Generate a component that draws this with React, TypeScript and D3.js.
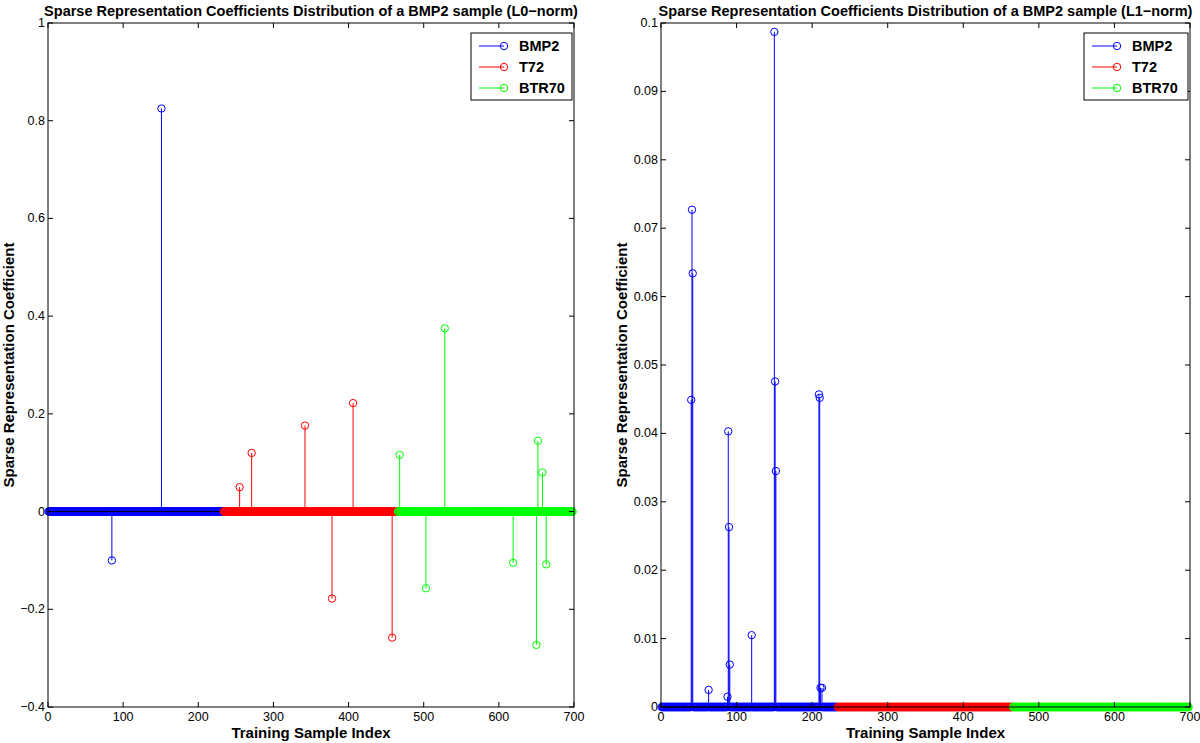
import React from "react";
import * as d3 from "d3";

// ---- data ----
const classNames = ["BMP2", "T72", "BTR70"];
const classColors = ["#0000ff", "#ff0000", "#00ff00"];
const classStart = [1, 234, 466];
const classEnd = [233, 465, 698];

// L0-norm nonzero coefficients: [index, value]
const l0BMP2: [number, number][] = [[85, -0.1], [151, 0.825]];
const l0T72: [number, number][] = [
  [255, 0.05], [271, 0.12], [342, 0.176], [378, -0.178], [406, 0.222], [458, -0.258],
];
const l0BTR70: [number, number][] = [
  [468, 0.116], [503, -0.157], [528, 0.375], [619, -0.105], [650, -0.273],
  [652, 0.145], [658, 0.08], [663, -0.108],
];

// L1-norm nonzero coefficients: [index, value]
const l1BMP2: [number, number][] = [
  [40, 0.0449], [41, 0.0727], [42, 0.0634], [63, 0.0025], [88, 0.0015],
  [89, 0.0403], [90, 0.0263], [91, 0.0062], [120, 0.0105], [150, 0.0987],
  [151, 0.0476], [152, 0.0345], [209, 0.0457], [210, 0.0452], [211, 0.0028], [213, 0.0028],
];
const l1T72: [number, number][] = [];
const l1BTR70: [number, number][] = [];

const xTicks = [0, 100, 200, 300, 400, 500, 600, 700];
const l0YTicks = [-0.4, -0.2, 0, 0.2, 0.4, 0.6, 0.8, 1];
const l1YTicks = [0, 0.01, 0.02, 0.03, 0.04, 0.05, 0.06, 0.07, 0.08, 0.09, 0.1];

const titles = [
  "Sparse Representation Coefficients Distribution of a BMP2 sample (L0\u2212norm)",
  "Sparse Representation Coefficients Distribution of a BMP2 sample (L1\u2212norm)",
];
const xLabel = "Training Sample Index";
const yLabel = "Sparse Representation Coefficient";

const FONT = "'Liberation Sans', Arial, Helvetica, sans-serif";

type PanelProps = {
  left: number;
  right: number;
  top: number;
  bottom: number;
  yDomain: [number, number];
  yTicks: number[];
  series: [number, number][][];
  title: string;
  legendX: number;
  fmt: (v: number) => string;
};

function Panel(p: PanelProps) {
  const x = d3.scaleLinear().domain([0, 700]).range([p.left, p.right]);
  const y = d3.scaleLinear().domain(p.yDomain).range([p.bottom, p.top]);
  const r = 3.7;
  const tl = 5;
  const cx = (p.left + p.right) / 2;
  const cy = (p.top + p.bottom) / 2;

  const seriesEls = p.series.map((pts, si) => {
    const color = classColors[si];
    const nz = new Set(pts.map((d) => d[0]));
    const zeros = d3.range(classStart[si], classEnd[si] + 1).filter((i) => !nz.has(i));
    return (
      <g key={si}>
        {pts.map(([i, v], k) => (
          <line key={"s" + k} x1={x(i)} x2={x(i)} y1={y(0)} y2={y(v)} stroke={color} strokeWidth={1} />
        ))}
        {zeros.map((i) => (
          <circle key={"z" + i} cx={x(i)} cy={y(0)} r={r} fill="none" stroke={color} strokeWidth={1.1} />
        ))}
        {pts.map(([i, v], k) => (
          <circle key={"c" + k} cx={x(i)} cy={y(v)} r={r} fill="none" stroke={color} strokeWidth={1} />
        ))}
        {si === 0 && (
          <line x1={x(0)} x2={x(700)} y1={y(0)} y2={y(0)} stroke="#000" strokeWidth={1} />
        )}
      </g>
    );
  });

  const lgTop = 33;
  const lgRow = 21;
  const lgW = p.right - 2 - p.legendX;

  return (
    <g>
      {seriesEls}
      <rect x={p.left} y={p.top} width={p.right - p.left} height={p.bottom - p.top} fill="none" stroke="#000" strokeWidth={1} />
      {xTicks.map((t) => (
        <g key={"xt" + t}>
          <line x1={x(t)} x2={x(t)} y1={p.bottom} y2={p.bottom - tl} stroke="#000" />
          <line x1={x(t)} x2={x(t)} y1={p.top} y2={p.top + tl} stroke="#000" />
          <text x={x(t)} y={p.bottom + 14} textAnchor="middle" fontFamily={FONT} fontSize={12.5}>
            {t}
          </text>
        </g>
      ))}
      {p.yTicks.map((t) => (
        <g key={"yt" + t}>
          <line x1={p.left} x2={p.left + tl} y1={y(t)} y2={y(t)} stroke="#000" />
          <line x1={p.right} x2={p.right - tl} y1={y(t)} y2={y(t)} stroke="#000" />
          <text x={p.left - 3} y={y(t) + 4} textAnchor="end" fontFamily={FONT} fontSize={12.5}>
            {p.fmt(t)}
          </text>
        </g>
      ))}
      <text x={cx} y={p.top - 7} textAnchor="middle" fontFamily={FONT} fontWeight="bold" fontSize={14.5}>
        {p.title}
      </text>
      <text x={cx} y={p.bottom + 31} textAnchor="middle" fontFamily={FONT} fontWeight="bold" fontSize={15}>
        {xLabel}
      </text>
      <text
        transform={`translate(${p.left - 34},${cy}) rotate(-90)`}
        textAnchor="middle"
        fontFamily={FONT}
        fontWeight="bold"
        fontSize={15}
      >
        {yLabel}
      </text>
      <rect x={p.legendX} y={lgTop} width={lgW} height={lgRow * 3 + 4} fill="#fff" stroke="#000" strokeWidth={1} />
      {classNames.map((n, i) => {
        const ly = lgTop + 13 + i * lgRow;
        return (
          <g key={n}>
            <line x1={p.legendX + 8} x2={p.legendX + 33} y1={ly} y2={ly} stroke={classColors[i]} />
            <circle cx={p.legendX + 33} cy={ly} r={r} fill="none" stroke={classColors[i]} />
            <text x={p.legendX + 48} y={ly + 5} fontFamily={FONT} fontWeight="bold" fontSize={14.5}>
              {n}
            </text>
          </g>
        );
      })}
    </g>
  );
}

const fmtNum = (v: number) => (v < 0 ? "\u2212" + d3.format("")(-v) : d3.format("")(v));

export default function App() {
  return (
    <svg
      width={1200}
      height={743}
      style={{ position: "absolute", left: 0, top: 0, background: "#fff" }}
    >
      <rect width={1200} height={743} fill="#fff" />
      <Panel
        left={48}
        right={574}
        top={23}
        bottom={707}
        yDomain={[-0.4, 1]}
        yTicks={l0YTicks}
        series={[l0BMP2, l0T72, l0BTR70]}
        title={titles[0]}
        legendX={471}
        fmt={fmtNum}
      />
      <Panel
        left={661}
        right={1190}
        top={23}
        bottom={707}
        yDomain={[0, 0.1]}
        yTicks={l1YTicks}
        series={[l1BMP2, l1T72, l1BTR70]}
        title={titles[1]}
        legendX={1084}
        fmt={fmtNum}
      />
    </svg>
  );
}
